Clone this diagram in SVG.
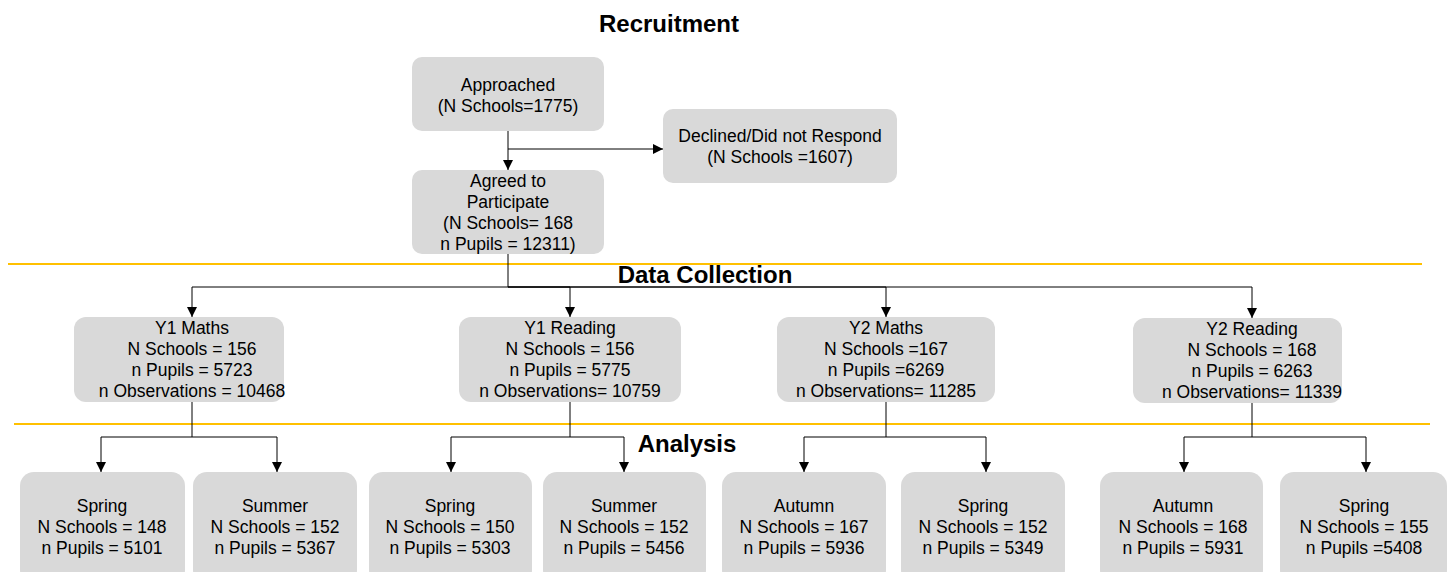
<svg xmlns="http://www.w3.org/2000/svg" width="1453" height="572" viewBox="0 0 1453 572">
<defs>
<style>
.box{fill:#d9d9d9;stroke:none}
.t{font-family:"Liberation Sans",Arial,sans-serif;font-size:17.5px;fill:#000;text-anchor:middle}
.h{font-family:"Liberation Sans",Arial,sans-serif;font-size:24px;font-weight:bold;fill:#000;text-anchor:middle}
.sep{stroke:#ffc000;stroke-width:2;fill:none}
.c{stroke:#000;stroke-width:1;fill:none;marker-end:url(#arr)}
</style>
<marker id="arr" markerUnits="userSpaceOnUse" markerWidth="10" markerHeight="10" refX="10" refY="5" orient="auto">
<path d="M0,0 L10,5 L0,10 z" fill="#000"/>
</marker>
</defs>
<rect width="1453" height="572" fill="#fff"/>
<g id="headers">
<text class="h" x="669" y="32">Recruitment</text>
<text class="h" x="705" y="283">Data Collection</text>
<text class="h" x="687" y="452">Analysis</text>
<line class="sep" x1="8" y1="264" x2="1422" y2="264"/>
<line class="sep" x1="14" y1="424" x2="1430" y2="424"/>
</g>
<g id="connectors">
<path class="c" d="M508,131 V170"/>
<path class="c" d="M508,149 H663"/>
<path class="c" d="M508,254 V287 H192 V317"/>
<path class="c" d="M508,287 H570 V317"/>
<path class="c" d="M508,287 H886 V317"/>
<path class="c" d="M508,287 H1252 V318"/>
<path class="c" d="M192,402 V437 H101 V472"/>
<path class="c" d="M192,437 H277 V472"/>
<path class="c" d="M570,402 V437 H451 V472"/>
<path class="c" d="M570,437 H624 V472"/>
<path class="c" d="M886,402 V437 H804 V472"/>
<path class="c" d="M886,437 H986 V472"/>
<path class="c" d="M1252,403 V437 H1184 V472"/>
<path class="c" d="M1252,437 H1366 V472"/>
</g>
<g id="approached">
<rect class="box" x="412" y="57" width="192" height="74" rx="10"/>
<text class="t" x="508" y="91">Approached</text>
<text class="t" x="508" y="112">(N Schools=1775)</text>
</g>
<g id="declined">
<rect class="box" x="663" y="109" width="234" height="74" rx="10"/>
<text class="t" x="780" y="142">Declined/Did not Respond</text>
<text class="t" x="780" y="163">(N Schools =1607)</text>
</g>
<g id="agreed">
<rect class="box" x="412" y="170" width="192" height="84" rx="10"/>
<text class="t" x="508" y="187">Agreed to</text>
<text class="t" x="508" y="208">Participate</text>
<text class="t" x="508" y="229">(N Schools= 168</text>
<text class="t" x="508" y="250">n Pupils = 12311)</text>
</g>
<g id="y1maths">
<rect class="box" x="74" y="317" width="210" height="85" rx="12"/>
<text class="t" x="192" y="334">Y1 Maths</text>
<text class="t" x="192" y="355">N Schools = 156</text>
<text class="t" x="192" y="376">n Pupils = 5723</text>
<text class="t" x="192" y="397">n Observations = 10468</text>
</g>
<g id="y1reading">
<rect class="box" x="459" y="317" width="222" height="85" rx="12"/>
<text class="t" x="570" y="334">Y1 Reading</text>
<text class="t" x="570" y="355">N Schools = 156</text>
<text class="t" x="570" y="376">n Pupils = 5775</text>
<text class="t" x="570" y="397">n Observations= 10759</text>
</g>
<g id="y2maths">
<rect class="box" x="777" y="317" width="218" height="85" rx="12"/>
<text class="t" x="886" y="334">Y2 Maths</text>
<text class="t" x="886" y="355">N Schools =167</text>
<text class="t" x="886" y="376">n Pupils =6269</text>
<text class="t" x="886" y="397">n Observations= 11285</text>
</g>
<g id="y2reading">
<rect class="box" x="1133" y="318" width="209" height="85" rx="12"/>
<text class="t" x="1252" y="335">Y2 Reading</text>
<text class="t" x="1252" y="356">N Schools = 168</text>
<text class="t" x="1252" y="377">n Pupils = 6263</text>
<text class="t" x="1252" y="398">n Observations= 11339</text>
</g>
<g id="a1">
<rect class="box" x="20" y="472" width="165" height="112" rx="14"/>
<text class="t" x="102" y="512">Spring</text>
<text class="t" x="102" y="533">N Schools = 148</text>
<text class="t" x="102" y="554">n Pupils = 5101</text>
</g>
<g id="a2">
<rect class="box" x="193" y="472" width="164" height="112" rx="14"/>
<text class="t" x="275" y="512">Summer</text>
<text class="t" x="275" y="533">N Schools = 152</text>
<text class="t" x="275" y="554">n Pupils = 5367</text>
</g>
<g id="a3">
<rect class="box" x="369" y="472" width="163" height="112" rx="14"/>
<text class="t" x="450" y="512">Spring</text>
<text class="t" x="450" y="533">N Schools = 150</text>
<text class="t" x="450" y="554">n Pupils = 5303</text>
</g>
<g id="a4">
<rect class="box" x="543" y="472" width="163" height="112" rx="14"/>
<text class="t" x="624" y="512">Summer</text>
<text class="t" x="624" y="533">N Schools = 152</text>
<text class="t" x="624" y="554">n Pupils = 5456</text>
</g>
<g id="a5">
<rect class="box" x="722" y="472" width="164" height="112" rx="14"/>
<text class="t" x="804" y="512">Autumn</text>
<text class="t" x="804" y="533">N Schools = 167</text>
<text class="t" x="804" y="554">n Pupils = 5936</text>
</g>
<g id="a6">
<rect class="box" x="901" y="472" width="164" height="112" rx="14"/>
<text class="t" x="983" y="512">Spring</text>
<text class="t" x="983" y="533">N Schools = 152</text>
<text class="t" x="983" y="554">n Pupils = 5349</text>
</g>
<g id="a7">
<rect class="box" x="1100" y="472" width="163" height="112" rx="14"/>
<text class="t" x="1183" y="512">Autumn</text>
<text class="t" x="1183" y="533">N Schools = 168</text>
<text class="t" x="1183" y="554">n Pupils = 5931</text>
</g>
<g id="a8">
<rect class="box" x="1280" y="472" width="167" height="112" rx="14"/>
<text class="t" x="1364" y="512">Spring</text>
<text class="t" x="1364" y="533">N Schools = 155</text>
<text class="t" x="1364" y="554">n Pupils =5408</text>
</g>
</svg>
